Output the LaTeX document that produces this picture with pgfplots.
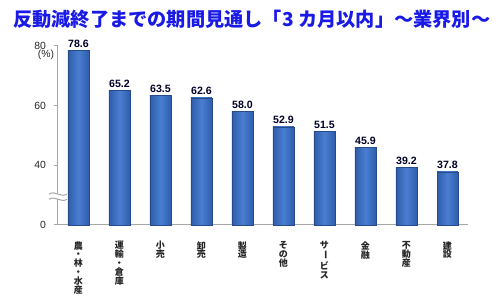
\documentclass[border=0pt]{standalone}
\usepackage{pgfplots}
\pgfplotsset{compat=1.18}
\usepackage{pgfplotstable}
\usetikzlibrary{calc}
\usepackage{fontspec}
\setmainfont{Liberation Sans}
\newfontfamily\cjk{Noto Sans CJK JP}
\definecolor{barmid}{HTML}{4A7ED0}
\definecolor{baredge}{HTML}{2F5DAC}
\definecolor{bartop}{HTML}{6E9BE0}
\definecolor{titleblue}{HTML}{1A1AE6}
\definecolor{axgray}{HTML}{A6A6A6}
\pgfplotstableread{
x v
0 78.6
1 65.2
2 63.5
3 62.6
4 58.0
5 52.9
6 51.5
7 45.9
8 39.2
9 37.8
}\datatable
\begin{document}
\begin{tikzpicture}[x=1pt,y=1pt]
\useasboundingbox (0,0) rectangle (250,152);
\node[anchor=west, inner sep=0pt, text=titleblue, font=\cjk\bfseries\fontsize{9.6}{10}\selectfont] at (6.5,142.5) {反動減終了までの期間見通し「3 カ月以内」～業界別～};
\begin{axis}[
  at={(29pt,39.5pt)}, anchor=south west,
  scale only axis, width=205pt, height=89.5pt,
  xmin=-0.5, xmax=9.5, ymin=0, ymax=60,
  /pgf/number format/assume math mode=true,
  axis x line=bottom, axis y line=left,
  axis line style={-, draw=axgray, line width=0.5pt},
  ytick={0,20,40,60}, yticklabels={0,40,60,80},
  xtick={0,...,9},
  xticklabels={
    {農\\・\\林\\・\\水\\産},
    {運\\輸\\・\\倉\\庫},
    {小\\売},
    {卸\\売},
    {製\\造},
    {そ\\の\\他},
    {サ\\\rotatebox[origin=c]{-90}{ー}\\ビ\\ス},
    {金\\融},
    {不\\動\\産},
    {建\\設}},
  major x tick style={draw=none},
  extra x ticks={0.5,1.5,...,9.5},
  extra x tick labels={},
  extra x tick style={major tick length=2.5pt, tick align=outside, tick style={draw=axgray, line width=0.5pt}},
  major tick length=2pt,
  ytick style={draw=axgray, line width=0.5pt},
  tick align=outside,
  xticklabel style={anchor=north, inner sep=0pt, yshift=-6pt, align=center,
     font=\cjk\bfseries\fontsize{4.5}{4.45}\selectfont, text=black!85},
  yticklabel style={font=\fontsize{5.2}{6}\selectfont, text=black!85, xshift=-0.5pt},
  point meta=explicit,
  every node near coord/.append style={font=\bfseries\fontsize{5.3}{6}\selectfont, text=black!85!blue, inner sep=1.3pt},
  clip=false,
]
\pgfplotsinvokeforeach{0,...,9}{
\addplot[ybar, bar width=10.5pt, bar shift=0pt, draw=baredge!80!black, line width=0.3pt,
   left color=baredge, right color=baredge, middle color=barmid,
   nodes near coords={\pgfmathprintnumber[fixed,precision=1,fixed zerofill]{\pgfplotspointmeta}}]
   table[x=x, y expr=\thisrow{v}-20, meta=v, restrict x to domain=#1:#1] {\datatable};
}
\coordinate (brk) at (axis cs:-0.5,9.7);
\end{axis}
\fill[white] ($(brk)+(-4.5pt,-1.3pt)$) rectangle ($(brk)+(4.5pt,1.3pt)$);
\draw[axgray, line width=0.5pt] ($(brk)+(-4.5pt,-1.6pt)$) .. controls ($(brk)+(-1.5pt,0.4pt)$) and ($(brk)+(1.5pt,-3.6pt)$) .. ($(brk)+(4.5pt,-1.6pt)$);
\draw[axgray, line width=0.5pt] ($(brk)+(-4.5pt,1.0pt)$) .. controls ($(brk)+(-1.5pt,3.0pt)$) and ($(brk)+(1.5pt,-1.0pt)$) .. ($(brk)+(4.5pt,1.0pt)$);
\node[font=\fontsize{5.2}{6}\selectfont, text=black!85, inner sep=0pt] at (23,124.5) {(\%)};
\end{tikzpicture}
\end{document}
